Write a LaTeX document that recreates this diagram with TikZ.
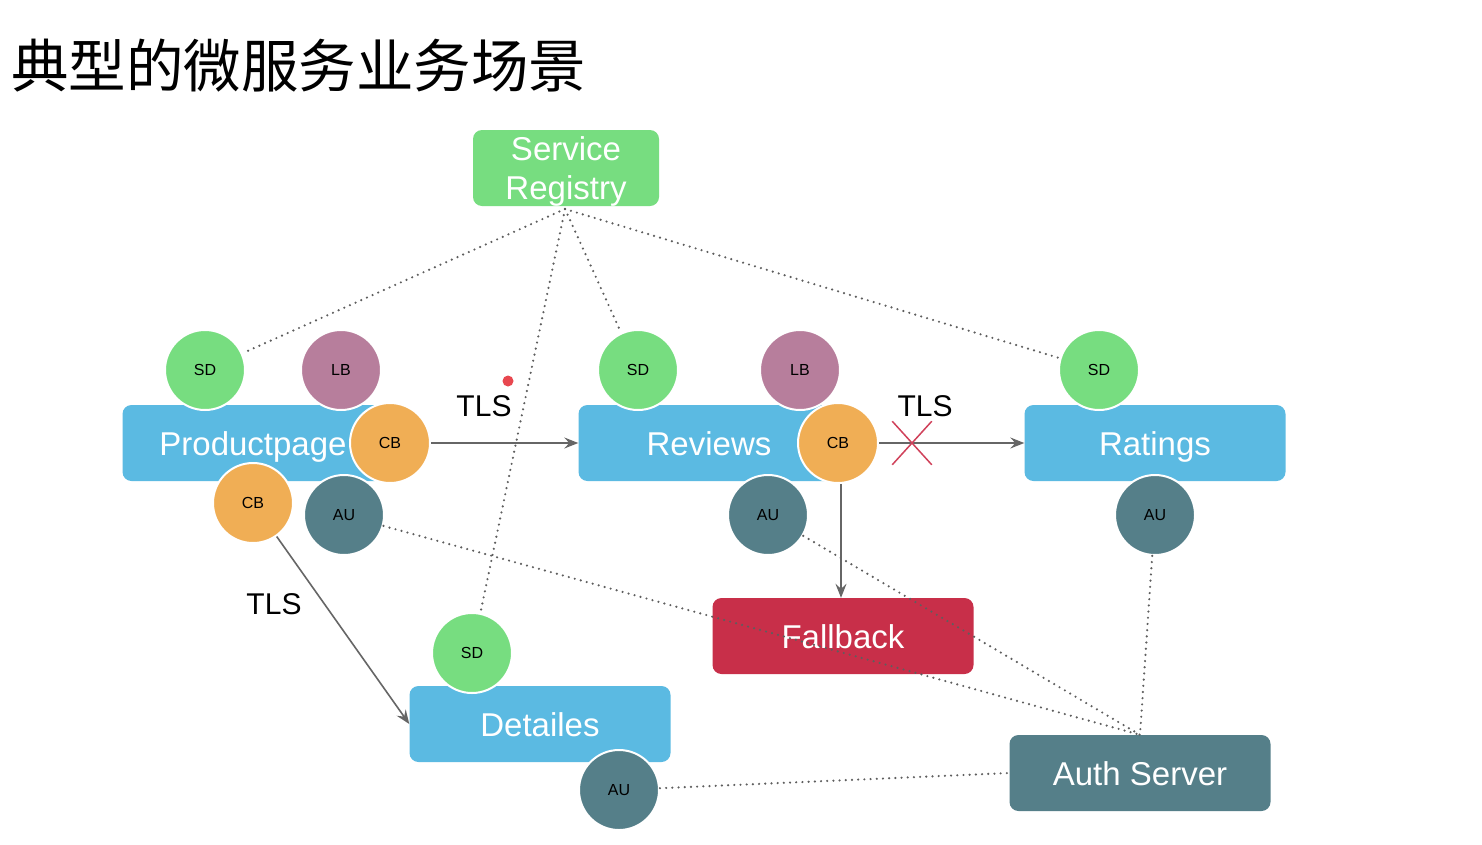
\documentclass[tikz,border=0pt]{standalone}
\usepackage{fontspec}
\setmainfont{Liberation Sans}
\newfontfamily\cjk{Noto Sans CJK SC}
\usetikzlibrary{arrows.meta,shapes.misc}
\definecolor{cgreen}{HTML}{77DD80}
\definecolor{cblue}{HTML}{5BBAE2}
\definecolor{cpurple}{HTML}{B77E9C}
\definecolor{corange}{HTML}{F0AE55}
\definecolor{cteal}{HTML}{557F89}
\definecolor{cred}{HTML}{C82F49}
\definecolor{arrgray}{HTML}{666666}
\definecolor{dotgray}{HTML}{5E5E5E}
\definecolor{crossred}{HTML}{D0415A}
\definecolor{reddot}{HTML}{E8474F}
\begin{document}
\begin{tikzpicture}[x=1pt,y=-1pt,
  box/.style={rectangle, rounded corners=9pt, minimum width=261pt, minimum height=76pt, text=white, font=\fontsize{33}{39}\selectfont, inner sep=0pt, text height=24.5pt, text depth=0pt},
  boxtext/.style={text=white, font=\fontsize{33}{39}\selectfont, inner sep=0pt, align=center},
  circ/.style={circle, minimum size=80pt, inner sep=0pt, draw=white, line width=2pt, text=black, font=\fontsize{16}{18}\selectfont},
  dotline/.style={draw=dotgray, dash pattern=on 0pt off 6.2pt, line cap=round, line width=2.4pt},
  arr/.style={draw=arrgray, line width=1.6pt, -{Stealth[length=14pt,width=11pt,inset=5pt]}},
  lbl/.style={font=\fontsize{30}{34}\selectfont, text=black, inner sep=0pt}
]
\useasboundingbox[fill=white] (0,0) rectangle (1482,844);
% title
\node[anchor=west, inner sep=0pt, font=\cjk\fontsize{57.5}{64}\selectfont] (title) at (11,66) {典型的微服务业务场景};
% boxes
\node[box, fill=cgreen, minimum width=186pt] (sr) at (566,168) {};
\node[boxtext] (srt) at ([yshift=-3pt]sr.center) {Service\\Registry};
\node[box, fill=cblue] (pp) at (253,443) {Productpage};
\node[box, fill=cblue] (rev) at (709,443) {Reviews};
\node[box, fill=cblue] (rat) at (1155,443) {Ratings};
\node[box, fill=cred] (fb) at (843,636) {Fallback};
\node[box, fill=cblue] (det) at (540,724) {Detailes};
\node[box, fill=cteal] (auth) at (1140,773) {Auth Server};
% circles
\node[circ, fill=cgreen] (pSD) at (205,370) {SD};
\node[circ, fill=cpurple] (pLB) at (341,370) {LB};
\node[circ, fill=corange] (pCB) at (390,443) {CB};
\node[circ, fill=corange] (pCB2) at (253,503) {CB};
\node[circ, fill=cteal] (pAU) at (344,515) {AU};
\node[circ, fill=cgreen] (rSD) at (638,370) {SD};
\node[circ, fill=cpurple] (rLB) at (800,370) {LB};
\node[circ, fill=corange] (rCB) at (838,443) {CB};
\node[circ, fill=cteal] (rAU) at (768,515) {AU};
\node[circ, fill=cgreen] (tSD) at (1099,370) {SD};
\node[circ, fill=cteal] (tAU) at (1155,515) {AU};
\node[circ, fill=cgreen] (dSD) at (472,653) {SD};
\node[circ, fill=cteal] (dAU) at (619,790) {AU};
% dotted links
\coordinate (srb) at (565,209);
\draw[dotline] (srb) -- (pSD);
\draw[dotline] (srb) -- (rSD);
\draw[dotline] (srb) -- (tSD);
\draw[dotline] (srb) -- (dSD);
\draw[dotline] (pAU) -- (auth.north);
\draw[dotline] (rAU) -- (auth.north);
\draw[dotline] (tAU) -- (auth.north);
\draw[dotline] (dAU) -- (auth.west);
% arrows
\draw[arr] (pCB) -- (rev.west);
\draw[arr] (rCB) -- (rat.west);
\draw[arr] ([xshift=3pt]rCB.south) -- ([xshift=3pt]rCB.south |- fb.north);
\draw[arr] (pCB2) -- (det.west);
% labels
\node[lbl] (tls1) at (484,406) {TLS};
\node[lbl] (tls2) at (925,406) {TLS};
\node[lbl] (tls3) at (274,604) {TLS};
\node[cross out, draw=crossred, line width=1.5pt, minimum width=38pt, minimum height=42pt, inner sep=0pt] (xm) at (912,443) {};
\fill[reddot] (508,381) circle (5.5pt);
\end{tikzpicture}
\end{document}
